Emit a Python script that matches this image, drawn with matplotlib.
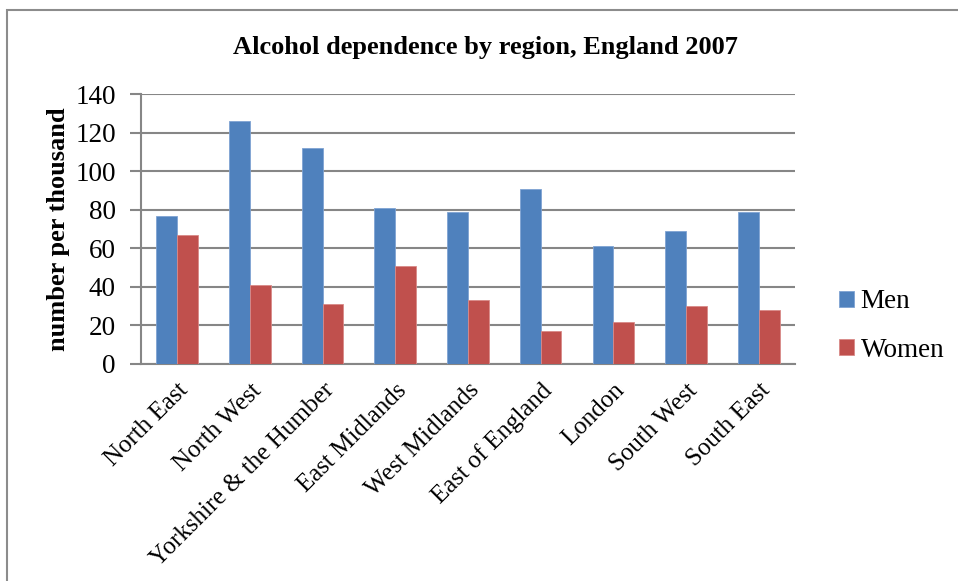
import matplotlib
matplotlib.use("Agg")
import matplotlib.pyplot as plt
import numpy as np
from matplotlib.patches import Rectangle

regions = ["North East", "North West", "Yorkshire & the Humber", "East Midlands",
           "West Midlands", "East of England", "London", "South West", "South East"]
men = [77, 126, 112, 81, 79, 91, 61, 69, 79]
women = [67, 41, 31, 51, 33, 17, 22, 30, 28]
y_ticks = [0, 20, 40, 60, 80, 100, 120, 140]

plt.rcParams["font.family"] = ["Liberation Serif", "DejaVu Serif"]

fig = plt.figure(figsize=(9.58, 5.81), dpi=100)
ax = fig.add_axes([0.147, 0.3735, 0.683, 0.4645])

# outer chart border
fig.patches.append(Rectangle((7 / 958, -0.05), 1.1, 0.05 + 571 / 581,
                             transform=fig.transFigure, fill=False,
                             edgecolor="#8c8c8c", linewidth=1.5, zorder=0))

x = np.arange(len(regions))
w = 0.286
ax.bar(x - w / 2, men, w, color="#4F81BD", edgecolor="#7fa3d3", linewidth=0.6,
       label="Men", zorder=3)
ax.bar(x + w / 2, women, w, color="#C0504D", edgecolor="#d98a88", linewidth=0.6,
       label="Women", zorder=3)

ax.set_xlim(-0.5, len(regions) - 0.5)
ax.set_ylim(0, 140)
ax.set_yticks(y_ticks)
ax.set_yticklabels([str(v) for v in y_ticks], fontsize=19.5)
ax.yaxis.grid(True, color="#868686", linewidth=1.5, zorder=0)
ax.set_axisbelow(True)

for side in ("top", "right"):
    ax.spines[side].set_visible(False)
for side in ("left", "bottom"):
    ax.spines[side].set_color("#868686")
    ax.spines[side].set_linewidth(1.5)
ax.tick_params(axis="y", length=8, width=1.5, color="#868686", pad=10)
ax.tick_params(axis="x", length=0, pad=11)

ax.set_xticks(x)
ax.set_xticklabels(regions, rotation=45, ha="right", va="top",
                   rotation_mode="anchor", fontsize=18)

ax.set_ylabel("number per thousand", fontsize=19, fontweight="bold", labelpad=4)
fig.text(0.507, 0.918, "Alcohol dependence by region, England 2007",
         ha="center", va="center", fontsize=19, fontweight="bold")

ax.legend(loc="center left", bbox_to_anchor=(828 / 958, 1 - 326 / 581),
          bbox_transform=fig.transFigure, frameon=False, fontsize=19.5,
          handlelength=0.55, handleheight=0.55, handletextpad=0.25,
          labelspacing=0.85, borderaxespad=0)

fig.savefig("out.png", dpi=100)
